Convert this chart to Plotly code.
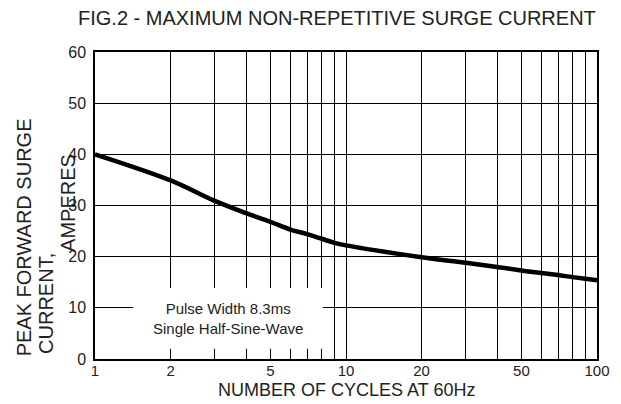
import plotly.graph_objects as go

# Data
cycles = [1, 2, 3, 4, 5, 6, 7, 8, 9, 10, 20, 30, 40, 50, 60, 70, 80, 90, 100]
current = [40, 34.9, 30.9, 28.5, 26.8, 25.3, 24.4, 23.5, 22.7, 22.2,
           19.9, 18.8, 18.0, 17.3, 16.8, 16.4, 16.0, 15.7, 15.4]

x_tickvals = [1, 2, 3, 4, 5, 6, 7, 8, 9, 10, 20, 30, 40, 50, 60, 70, 80, 90, 100]
x_ticktext = ["1", "2", "", "", "5", "", "", "", "", "10", "20", "", "", "50", "", "", "", "", "100"]
y_tickvals = [0, 10, 20, 30, 40, 50, 60]

title_text = "FIG.2 - MAXIMUM NON-REPETITIVE SURGE CURRENT"
x_title = "NUMBER OF CYCLES AT 60Hz"
y_title_lines = ["PEAK FORWARD SURGE", "CURRENT,", "AMPERES"]
note_text = "Pulse Width 8.3ms<br>Single Half-Sine-Wave"

FONT = "Liberation Sans, Arial, sans-serif"
TXT = "#222222"

fig = go.Figure()
fig.add_trace(go.Scatter(
    x=cycles, y=current, mode="lines",
    line=dict(color="black", width=4.5, shape="spline", smoothing=1.0),
    hoverinfo="skip", showlegend=False,
))

# page body has an 8px margin, so the figure is sized to fit the 621x404 window
fig.update_layout(
    width=613, height=396,
    margin=dict(l=87, r=24, t=44, b=45),
    paper_bgcolor="white", plot_bgcolor="white",
    font=dict(family=FONT, color=TXT),
    showlegend=False,
)

fig.update_xaxes(
    type="log", range=[0, 2],
    tickvals=x_tickvals, ticktext=x_ticktext,
    showgrid=True, gridcolor="black", gridwidth=1,
    showline=True, linecolor="black", linewidth=1.5, mirror=True,
    ticks="", ticklabelstandoff=-3,
    tickfont=dict(size=15, family=FONT, color=TXT),
    zeroline=False,
)
fig.update_yaxes(
    range=[0, 60], tickvals=y_tickvals,
    showgrid=True, gridcolor="black", gridwidth=1,
    showline=True, linecolor="black", linewidth=1.5, mirror=True,
    ticks="outside", ticklen=4, tickcolor="rgba(0,0,0,0)",
    tickfont=dict(size=16, family=FONT, color=TXT),
    zeroline=False,
)

# Title
fig.add_annotation(text=title_text, xref="paper", yref="paper",
                   x=0.482, y=1.112, xanchor="center", yanchor="middle",
                   showarrow=False, font=dict(size=20, family=FONT, color=TXT))

# White note box covering the grid
fig.add_shape(type="rect", xref="paper", yref="paper",
              x0=0.076, x1=0.454, y0=0.033, y1=0.231,
              fillcolor="white", line=dict(width=0), layer="above")
fig.add_annotation(text=note_text, xref="paper", yref="paper",
                   x=0.265, y=0.132, xanchor="center", yanchor="middle",
                   showarrow=False, align="center",
                   font=dict(size=15, family=FONT, color=TXT))

# X axis title
fig.add_annotation(text=x_title, xref="paper", yref="paper",
                   x=0.5, y=-0.1, xanchor="center", yanchor="middle",
                   showarrow=False, font=dict(size=18, family=FONT, color=TXT))

# Y axis title lines (rotated)
fig.add_annotation(text=y_title_lines[0], xref="paper", yref="paper",
                   x=-0.141, y=0.397, textangle=-90, showarrow=False,
                   xanchor="center", yanchor="middle",
                   font=dict(size=20, family=FONT, color=TXT))
fig.add_annotation(text=y_title_lines[1], xref="paper", yref="paper",
                   x=-0.098, y=0.182, textangle=-90, showarrow=False,
                   xanchor="center", yanchor="middle",
                   font=dict(size=20, family=FONT, color=TXT))
fig.add_annotation(text=y_title_lines[2], xref="paper", yref="paper",
                   x=-0.054, y=0.508, textangle=-90, showarrow=False,
                   xanchor="center", yanchor="middle",
                   font=dict(size=20, family=FONT, color=TXT))

fig.write_html("out.html")
